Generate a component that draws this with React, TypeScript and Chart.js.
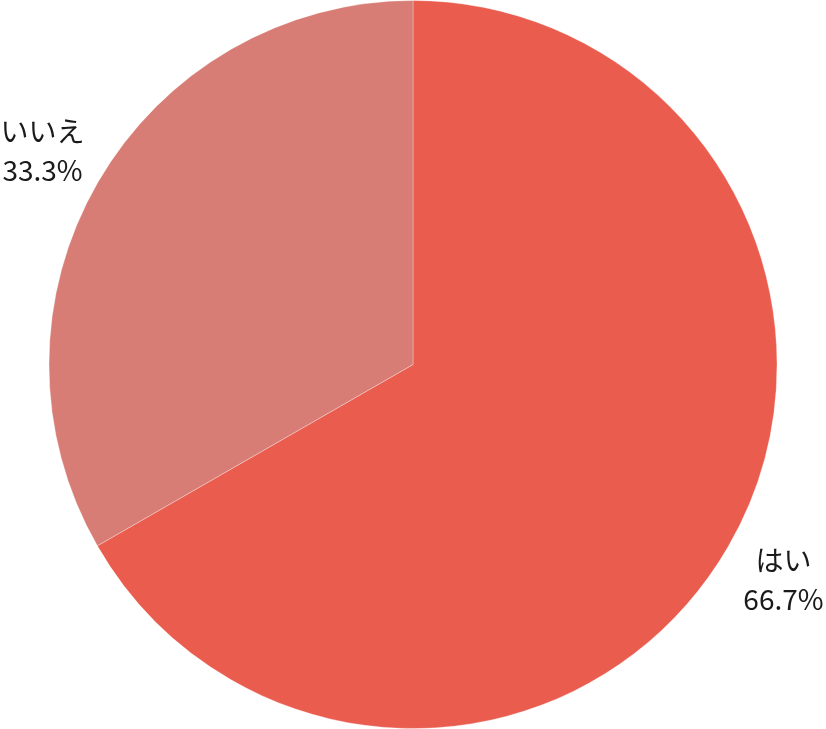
import React, { useEffect, useRef } from "react";
import { Chart, registerables } from "chart.js";

Chart.register(...registerables);

const categories = ["はい", "いいえ"];
const values = [66.7, 33.3];
const percentLabels = ["66.7%", "33.3%"];
const colors = ["#E95C4E", "#D87D75"];

const FONT = '"Noto Sans CJK JP", "Noto Sans", sans-serif';

const outsideLabels = {
  id: "outsideLabels",
  afterDraw(chart: any) {
    const ctx = chart.ctx;
    const meta = chart.getDatasetMeta(0);
    ctx.save();
    ctx.font = `28px ${FONT}`;
    ctx.fillStyle = "#1a1a1a";
    ctx.textAlign = "center";
    ctx.textBaseline = "middle";
    meta.data.forEach((arc: any, i: number) => {
      const { x, y, startAngle, endAngle, outerRadius } = arc.getProps(
        ["x", "y", "startAngle", "endAngle", "outerRadius"],
        true
      );
      const mid = (startAngle + endAngle) / 2;
      const r = outerRadius + 64;
      const lx = x + Math.cos(mid) * r;
      const ly = y + Math.sin(mid) * r;
      ctx.fillText(categories[i], lx, ly - 19);
      ctx.fillText(percentLabels[i], lx, ly + 20);
    });
    ctx.restore();
  },
};

export default function App() {
  const ref = useRef<HTMLCanvasElement | null>(null);
  useEffect(() => {
    if (!ref.current) return;
    const chart = new Chart(ref.current, {
      type: "pie",
      data: {
        labels: categories,
        datasets: [
          {
            data: values,
            backgroundColor: colors,
            borderColor: "rgba(255,255,255,0.3)",
            borderWidth: 1,
          },
        ],
      },
      options: {
        responsive: false,
        animation: false,
        layout: { padding: 0 },
        plugins: {
          legend: { display: false },
          tooltip: { enabled: false },
        },
      },
      plugins: [outsideLabels],
    });
    return () => chart.destroy();
  }, []);
  return (
    <div style={{ position: "fixed", left: 0, top: 0, width: 826, height: 729, background: "#fff" }}>
      <canvas ref={ref} width={826} height={729} />
    </div>
  );
}
